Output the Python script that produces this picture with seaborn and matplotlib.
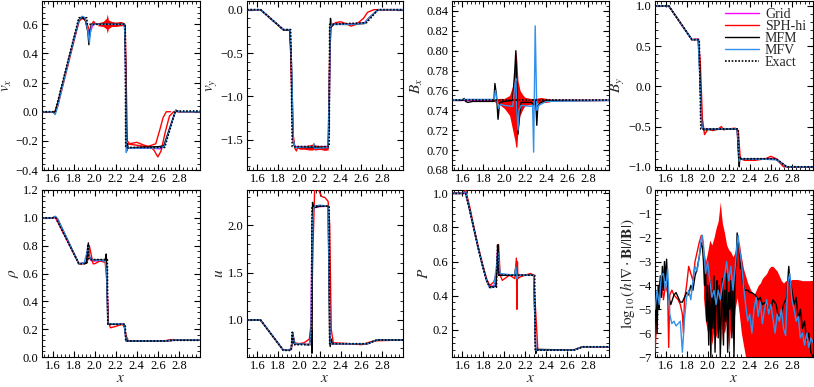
import matplotlib
matplotlib.use("Agg")
import matplotlib.pyplot as plt
import seaborn as sns
from matplotlib.lines import Line2D
from matplotlib.ticker import MultipleLocator

# ---------------- data ----------------
# v_x
vx_exact_x = [1.5, 1.625, 1.85, 1.925, 1.93, 2.29, 2.295, 2.665, 2.765, 3.0]
vx_exact_y = [0.0, 0.0, 0.645, 0.645, 0.60, 0.60, -0.245, -0.245, 0.005, 0.005]
vx_grid_x = [1.5, 1.6, 1.63, 1.7, 1.8, 1.86, 1.89, 1.92, 1.95, 1.965, 1.98, 2.0, 2.28, 2.29, 2.30, 2.31, 2.35, 2.55, 2.62, 2.66, 2.7, 2.77, 2.8, 3.0]
vx_grid_y = [0.0, 0.0, 0.0, 0.2, 0.49, 0.64, 0.645, 0.62, 0.52, 0.56, 0.59, 0.6, 0.6, 0.55, -0.24, -0.25, -0.25, -0.25, -0.255, -0.24, -0.14, 0.01, 0.0, 0.0]
vx_mfm_x = [1.5, 1.6, 1.62, 1.65, 1.75, 1.85, 1.88, 1.91, 1.935, 1.945, 1.955, 1.97, 2.0, 2.285, 2.295, 2.303, 2.31, 2.32, 2.4, 2.6, 2.655, 2.7, 2.77, 2.8, 3.0]
vx_mfm_y = [0.0, 0.0, -0.01, 0.06, 0.35, 0.63, 0.65, 0.63, 0.55, 0.46, 0.55, 0.6, 0.6, 0.6, 0.3, -0.27, -0.22, -0.25, -0.245, -0.24, -0.235, -0.14, 0.01, 0.0, 0.0]
vx_mfv_x = [1.5, 1.6, 1.625, 1.65, 1.75, 1.85, 1.88, 1.91, 1.935, 1.95, 1.96, 1.975, 2.0, 2.28, 2.29, 2.30, 2.31, 2.33, 2.6, 2.66, 2.7, 2.77, 2.8, 3.0]
vx_mfv_y = [0.0, 0.0, -0.02, 0.04, 0.34, 0.63, 0.655, 0.645, 0.56, 0.475, 0.55, 0.6, 0.6, 0.6, 0.5, -0.28, -0.24, -0.25, -0.25, -0.24, -0.15, 0.01, 0.0, 0.0]
vx_sph_x = [1.5, 1.6, 1.63, 1.65, 1.75, 1.85, 1.88, 1.91, 1.94, 1.955, 1.97, 1.99, 2.01, 2.27, 2.29, 2.31, 2.33, 2.4, 2.47, 2.52, 2.56, 2.6, 2.63, 2.67, 2.71, 2.75, 3.0]
vx_sph_y = [0.0, 0.0, 0.0, 0.04, 0.33, 0.62, 0.64, 0.63, 0.58, 0.55, 0.6, 0.62, 0.6, 0.6, 0.59, -0.2, -0.22, -0.21, -0.23, -0.24, -0.26, -0.31, -0.27, -0.14, -0.03, 0.0, 0.0]
vx_sph2_x = [2.3, 2.4, 2.5, 2.58, 2.62, 2.65, 2.68, 2.72]
vx_sph2_y = [-0.22, -0.23, -0.24, -0.22, -0.12, -0.04, 0.0, 0.0]
vx_band_x = [2.03, 2.08, 2.11, 2.12, 2.13, 2.16, 2.2, 2.25, 2.28]
vx_band_hi = [0.61, 0.62, 0.64, 0.67, 0.63, 0.62, 0.615, 0.62, 0.61]
vx_band_lo = [0.59, 0.585, 0.57, 0.54, 0.57, 0.585, 0.585, 0.59, 0.59]

# v_y
vy_exact_x = [1.5, 1.63, 1.85, 1.92, 1.935, 2.29, 2.295, 2.65, 2.76, 3.0]
vy_exact_y = [0.0, 0.0, -0.23, -0.23, -1.58, -1.58, -0.17, -0.15, 0.0, 0.0]
vy_grid_x = [1.5, 1.63, 1.85, 1.91, 1.925, 1.94, 1.96, 2.28, 2.29, 2.30, 2.32, 2.5, 2.63, 2.67, 2.76, 3.0]
vy_grid_y = [0.0, 0.0, -0.23, -0.235, -0.6, -1.5, -1.58, -1.58, -1.2, -0.2, -0.17, -0.165, -0.15, -0.1, 0.0, 0.0]
vy_mfm_x = [1.5, 1.63, 1.85, 1.91, 1.925, 1.945, 1.96, 2.28, 2.29, 2.298, 2.303, 2.31, 2.33, 2.5, 2.63, 2.67, 2.76, 3.0]
vy_mfm_y = [0.0, 0.0, -0.235, -0.235, -0.5, -1.5, -1.59, -1.59, -1.3, -0.25, -0.1, -0.2, -0.17, -0.17, -0.16, -0.1, 0.0, 0.0]
vy_mfv_x = [1.5, 1.63, 1.85, 1.915, 1.93, 1.945, 1.96, 2.14, 2.145, 2.15, 2.28, 2.29, 2.30, 2.32, 2.5, 2.63, 2.67, 2.76, 3.0]
vy_mfv_y = [0.0, 0.0, -0.23, -0.23, -0.7, -1.5, -1.59, -1.58, -1.55, -1.6, -1.59, -1.0, -0.2, -0.17, -0.17, -0.155, -0.1, 0.0, 0.0]
vy_sph_x = [1.5, 1.63, 1.85, 1.91, 1.92, 1.94, 1.96, 1.975, 1.99, 2.0, 2.2, 2.26, 2.28, 2.295, 2.31, 2.35, 2.4, 2.45, 2.5, 2.55, 2.62, 2.66, 2.72, 3.0]
vy_sph_y = [0.0, 0.0, -0.23, -0.24, -0.5, -1.4, -1.6, -1.63, -1.58, -1.6, -1.61, -1.62, -1.6, -0.5, -0.2, -0.15, -0.14, -0.16, -0.19, -0.17, -0.1, -0.03, 0.0, 0.0]
vy_band_x = [2.0, 2.05, 2.1, 2.13, 2.14, 2.15, 2.2, 2.25, 2.28]
vy_band_hi = [-1.57, -1.57, -1.56, -1.55, -1.53, -1.56, -1.57, -1.57, -1.58]
vy_band_lo = [-1.61, -1.61, -1.62, -1.62, -1.61, -1.62, -1.61, -1.62, -1.62]

# B_x
bx_exact_x = [1.5, 3.0]
bx_exact_y = [0.75, 0.75]
bx_grid_x = [1.5, 1.9, 1.95, 2.3, 2.35, 3.0]
bx_grid_y = [0.75, 0.75, 0.749, 0.749, 0.75, 0.75]
bx_mfm_x = [1.5, 1.6, 1.615, 1.63, 1.65, 1.7, 1.9, 1.91, 1.925, 1.94, 1.955, 2.0, 2.08, 2.1, 2.11, 2.12, 2.13, 2.145, 2.16, 2.26, 2.285, 2.3, 2.31, 2.32, 2.35, 2.4, 3.0]
bx_mfm_y = [0.75, 0.75, 0.752, 0.749, 0.748, 0.749, 0.749, 0.767, 0.755, 0.731, 0.748, 0.749, 0.75, 0.78, 0.80, 0.76, 0.716, 0.735, 0.748, 0.748, 0.745, 0.75, 0.725, 0.745, 0.748, 0.75, 0.75]
bx_mfv_x = [1.5, 1.6, 1.9, 1.915, 1.93, 1.945, 1.96, 2.0, 2.08, 2.1, 2.11, 2.12, 2.13, 2.14, 2.16, 2.25, 2.27, 2.28, 2.295, 2.31, 2.33, 2.4, 3.0]
bx_mfv_y = [0.75, 0.751, 0.751, 0.76, 0.75, 0.742, 0.746, 0.745, 0.744, 0.765, 0.772, 0.74, 0.72, 0.74, 0.745, 0.744, 0.745, 0.698, 0.825, 0.74, 0.745, 0.749, 0.75]
bx_band_x = [1.85, 1.9, 1.95, 2.0, 2.05, 2.08, 2.1, 2.11, 2.12, 2.13, 2.15, 2.18, 2.2, 2.25, 2.3, 2.35, 2.4, 2.45, 2.6, 2.8, 3.0]
bx_band_hi = [0.75, 0.751, 0.752, 0.752, 0.755, 0.765, 0.78, 0.80, 0.79, 0.77, 0.76, 0.755, 0.753, 0.752, 0.752, 0.753, 0.752, 0.751, 0.7505, 0.7505, 0.75]
bx_band_lo = [0.75, 0.749, 0.746, 0.742, 0.735, 0.72, 0.71, 0.703, 0.703, 0.72, 0.735, 0.742, 0.745, 0.746, 0.747, 0.748, 0.748, 0.749, 0.7495, 0.7495, 0.75]

# B_y
by_exact_x = [1.5, 1.63, 1.85, 1.92, 1.935, 2.29, 2.295, 2.65, 2.75, 3.0]
by_exact_y = [1.0, 1.0, 0.58, 0.58, -0.53, -0.53, -0.9, -0.9, -1.0, -1.0]
by_grid_x = [1.5, 1.63, 1.85, 1.915, 1.925, 1.94, 1.955, 2.28, 2.29, 2.30, 2.65, 2.75, 3.0]
by_grid_y = [1.0, 1.0, 0.58, 0.585, 0.3, -0.4, -0.53, -0.53, -0.75, -0.9, -0.9, -1.0, -1.0]
by_mfm_x = [1.5, 1.63, 1.85, 1.91, 1.925, 1.945, 1.96, 2.28, 2.295, 2.30, 2.305, 2.32, 2.65, 2.75, 3.0]
by_mfm_y = [1.0, 1.0, 0.58, 0.58, 0.2, -0.5, -0.54, -0.53, -0.9, -1.0, -0.88, -0.9, -0.91, -1.0, -1.0]
by_mfv_x = [1.5, 1.63, 1.85, 1.91, 1.925, 1.945, 1.96, 2.28, 2.29, 2.30, 2.31, 2.65, 2.75, 3.0]
by_mfv_y = [1.0, 1.0, 0.58, 0.58, 0.1, -0.5, -0.53, -0.53, -0.7, -0.93, -0.9, -0.91, -1.0, -1.0]
by_sph_x = [1.5, 1.63, 1.85, 1.91, 1.93, 1.95, 1.97, 1.985, 2.0, 2.05, 2.1, 2.13, 2.15, 2.2, 2.26, 2.29, 2.31, 2.35, 2.45, 2.55, 2.6, 2.65, 2.72, 3.0]
by_sph_y = [1.0, 1.0, 0.58, 0.585, 0.3, -0.4, -0.6, -0.57, -0.53, -0.55, -0.53, -0.5, -0.54, -0.53, -0.52, -0.55, -0.9, -0.92, -0.92, -0.9, -0.87, -0.9, -1.0, -1.0]

# rho
rho_exact_x = [1.5, 1.63, 1.85, 1.925, 1.935, 1.945, 2.12, 2.125, 2.29, 2.295, 2.66, 2.75, 3.0]
rho_exact_y = [1.0, 1.0, 0.67, 0.67, 0.80, 0.70, 0.70, 0.235, 0.235, 0.115, 0.115, 0.12, 0.12]
rho_grid_x = [1.5, 1.63, 1.85, 1.92, 1.935, 1.95, 1.97, 2.1, 2.115, 2.125, 2.13, 2.28, 2.295, 2.30, 2.66, 2.75, 3.0]
rho_grid_y = [1.0, 1.0, 0.67, 0.68, 0.78, 0.72, 0.69, 0.69, 0.65, 0.3, 0.235, 0.235, 0.15, 0.115, 0.115, 0.12, 0.12]
rho_mfm_x = [1.5, 1.6, 1.625, 1.65, 1.85, 1.92, 1.94, 1.95, 1.97, 2.1, 2.11, 2.115, 2.125, 2.14, 2.28, 2.3, 2.66, 2.75, 3.0]
rho_mfm_y = [1.0, 1.0, 1.01, 0.99, 0.67, 0.675, 0.82, 0.72, 0.7, 0.695, 0.74, 0.6, 0.24, 0.235, 0.235, 0.115, 0.115, 0.12, 0.12]
rho_mfv_x = [1.5, 1.6, 1.625, 1.65, 1.85, 1.9, 1.94, 1.955, 1.97, 2.1, 2.115, 2.125, 2.28, 2.3, 2.66, 2.75, 3.0]
rho_mfv_y = [1.0, 1.0, 1.01, 0.99, 0.67, 0.675, 0.79, 0.71, 0.7, 0.69, 0.6, 0.24, 0.235, 0.115, 0.115, 0.122, 0.122]
rho_sph_x = [1.5, 1.6, 1.63, 1.85, 1.9, 1.93, 1.95, 1.96, 1.985, 2.0, 2.05, 2.1, 2.115, 2.13, 2.15, 2.2, 2.26, 2.28, 2.3, 2.32, 2.66, 2.72, 3.0]
rho_sph_y = [1.0, 1.0, 1.005, 0.67, 0.67, 0.68, 0.80, 0.76, 0.67, 0.67, 0.69, 0.68, 0.55, 0.25, 0.21, 0.22, 0.235, 0.22, 0.15, 0.115, 0.115, 0.125, 0.122]

# u
u_exact_x = [1.5, 1.63, 1.85, 1.925, 1.935, 1.95, 2.12, 2.125, 2.29, 2.295, 2.66, 2.75, 3.0]
u_exact_y = [1.0, 1.0, 0.68, 0.68, 0.87, 0.74, 0.74, 2.2, 2.2, 0.75, 0.75, 0.79, 0.79]
u_grid_x = [1.5, 1.63, 1.85, 1.925, 1.94, 1.955, 2.1, 2.115, 2.125, 2.14, 2.28, 2.29, 2.30, 2.66, 2.75, 3.0]
u_grid_y = [1.0, 1.0, 0.68, 0.69, 0.85, 0.75, 0.74, 0.9, 2.0, 2.19, 2.2, 1.5, 0.75, 0.75, 0.79, 0.79]
u_mfm_x = [1.5, 1.63, 1.85, 1.925, 1.94, 1.955, 2.1, 2.12, 2.125, 2.13, 2.14, 2.2, 2.28, 2.295, 2.30, 2.31, 2.32, 2.66, 2.75, 3.0]
u_mfm_y = [1.0, 1.0, 0.68, 0.69, 0.87, 0.75, 0.74, 0.9, 0.65, 2.24, 2.18, 2.2, 2.2, 0.8, 0.72, 0.8, 0.75, 0.75, 0.79, 0.79]
u_mfv_x = [1.5, 1.63, 1.85, 1.925, 1.94, 1.955, 2.1, 2.115, 2.13, 2.145, 2.2, 2.28, 2.295, 2.30, 2.66, 2.75, 3.0]
u_mfv_y = [1.0, 1.0, 0.68, 0.69, 0.86, 0.75, 0.74, 0.85, 2.05, 2.2, 2.21, 2.2, 1.0, 0.75, 0.75, 0.79, 0.79]
u_sph_x = [1.5, 1.63, 1.85, 1.925, 1.945, 1.96, 2.0, 2.05, 2.1, 2.12, 2.135, 2.15, 2.16, 2.2, 2.22, 2.25, 2.28, 2.295, 2.31, 2.33, 2.5, 2.6, 2.72, 3.0]
u_sph_y = [1.0, 1.0, 0.68, 0.69, 0.82, 0.76, 0.75, 0.76, 0.8, 1.0, 1.8, 2.35, 2.45, 2.34, 2.3, 2.29, 2.25, 2.0, 0.9, 0.76, 0.75, 0.74, 0.78, 0.79]

# P
p_exact_x = [1.5, 1.63, 1.67, 1.71, 1.75, 1.79, 1.83, 1.86, 1.925, 1.935, 1.945, 2.29, 2.295, 2.66, 2.75, 3.0]
p_exact_y = [1.0, 1.0, 0.9, 0.79, 0.68, 0.58, 0.49, 0.45, 0.45, 0.70, 0.52, 0.52, 0.08, 0.08, 0.1, 0.1]
p_grid_x = [1.5, 1.63, 1.67, 1.71, 1.75, 1.79, 1.83, 1.86, 1.92, 1.935, 1.95, 2.28, 2.29, 2.30, 2.66, 2.75, 3.0]
p_grid_y = [1.0, 1.0, 0.9, 0.79, 0.68, 0.58, 0.49, 0.455, 0.46, 0.67, 0.52, 0.52, 0.3, 0.08, 0.08, 0.1, 0.1]
p_mfm_x = [1.5, 1.6, 1.63, 1.67, 1.71, 1.75, 1.79, 1.83, 1.86, 1.92, 1.94, 1.95, 2.1, 2.11, 2.12, 2.13, 2.28, 2.295, 2.30, 2.31, 2.66, 2.75, 3.0]
p_mfm_y = [1.0, 1.0, 1.01, 0.9, 0.79, 0.68, 0.58, 0.49, 0.45, 0.455, 0.7, 0.52, 0.52, 0.57, 0.5, 0.52, 0.52, 0.2, 0.06, 0.085, 0.08, 0.1, 0.1]
p_mfv_x = [1.5, 1.6, 1.63, 1.67, 1.71, 1.75, 1.79, 1.83, 1.86, 1.9, 1.94, 1.96, 2.1, 2.11, 2.12, 2.13, 2.28, 2.29, 2.30, 2.66, 2.75, 3.0]
p_mfv_y = [1.0, 1.0, 1.01, 0.9, 0.79, 0.68, 0.58, 0.49, 0.445, 0.45, 0.65, 0.53, 0.52, 0.57, 0.5, 0.52, 0.52, 0.3, 0.08, 0.08, 0.1, 0.1]
p_sph_x = [1.5, 1.6, 1.63, 1.67, 1.71, 1.75, 1.79, 1.83, 1.86, 1.9, 1.93, 1.945, 1.96, 1.98, 2.05, 2.1, 2.115, 2.12, 2.125, 2.13, 2.15, 2.25, 2.28, 2.3, 2.32, 2.66, 2.75, 3.0]
p_sph_y = [1.0, 1.0, 1.02, 0.92, 0.8, 0.69, 0.59, 0.5, 0.46, 0.48, 0.55, 0.7, 0.52, 0.49, 0.52, 0.5, 0.62, 0.32, 0.6, 0.5, 0.51, 0.53, 0.52, 0.3, 0.08, 0.08, 0.1, 0.1]

# log10(h |div B| / |B|)
db_mfm_x = [1.5, 1.51, 1.52, 1.53, 1.54, 1.55, 1.56, 1.57, 1.58, 1.59, 1.6, 1.61, 1.62, 1.63,
            1.65, 1.68, 1.7, 1.72, 1.74, 1.76, 1.78, 1.8, 1.82, 1.84, 1.86, 1.88, 1.9, 1.92, 1.94,
            1.95, 1.96, 1.97, 1.98, 1.99, 2.0, 2.01, 2.02, 2.03, 2.04, 2.05, 2.06, 2.07, 2.08, 2.09,
            2.1, 2.11, 2.12, 2.13, 2.14, 2.15, 2.16, 2.17, 2.18, 2.19, 2.2, 2.21, 2.22, 2.23, 2.24,
            2.25, 2.26, 2.27, 2.28, 2.29, 2.3, 2.31, 2.32, 2.33,
            2.35, 2.38, 2.4, 2.42, 2.45, 2.48, 2.5, 2.52, 2.55, 2.57, 2.6, 2.62, 2.65, 2.67, 2.7,
            2.72, 2.75, 2.77, 2.78, 2.8, 2.82, 2.84, 2.86, 2.88, 2.9, 2.92, 2.94, 2.96, 2.98, 3.0]
db_mfm_y = [-5.5, -4.3, -6.0, -4.0, -5.0, -3.6, -4.5, -3.2, -4.2, -3.0, -3.8, -2.9, -4.0, -4.5,
            -4.8, -4.4, -4.3, -4.5, -4.7, -4.7, -4.5, -4.3, -4.4, -4.0, -4.2, -3.6, -3.3, -2.8, -2.2,
            -2.4, -3.0, -4.0, -3.2, -5.5, -4.0, -6.5, -3.8, -7.0, -4.2, -5.8, -3.6, -6.8, -4.5, -3.8,
            -6.2, -4.0, -7.0, -5.0, -3.7, -6.5, -4.2, -5.5, -3.5, -6.8, -4.3, -5.0, -3.8, -6.2, -4.0,
            -7.0, -3.5, -3.0, -1.8, -2.3, -2.5, -3.3, -3.0, -3.8,
            -4.2, -4.2, -4.3, -4.3, -4.4, -4.6, -4.5, -4.8, -4.7, -4.9, -5.0, -4.6, -4.8, -5.3, -5.2,
            -4.8, -4.5, -3.2, -3.8, -4.2, -4.8, -4.5, -5.4, -5.0, -5.8, -5.5, -6.3, -6.0, -6.8, -7.0]
db_mfv_x = [1.5, 1.52, 1.54, 1.56, 1.58, 1.6, 1.62, 1.64, 1.66, 1.68, 1.7, 1.72, 1.74, 1.76, 1.78,
            1.8, 1.82, 1.84, 1.86, 1.88, 1.9, 1.92, 1.94, 1.95, 1.96, 1.98,
            2.0, 2.02, 2.04, 2.06, 2.08, 2.1, 2.12, 2.14, 2.16, 2.18, 2.2, 2.22, 2.24, 2.26, 2.28,
            2.29, 2.3,
            2.32, 2.34, 2.36, 2.38, 2.4, 2.42, 2.44, 2.46, 2.48, 2.5, 2.52, 2.54, 2.56, 2.58, 2.6,
            2.62, 2.64, 2.66, 2.68, 2.7, 2.72, 2.74, 2.76, 2.78, 2.8, 2.82, 2.84, 2.86, 2.88, 2.9,
            2.92, 2.94, 2.96, 2.98, 3.0]
db_mfv_y = [-5.0, -4.2, -4.8, -3.6, -3.5, -4.2, -3.3, -5.2, -5.6, -5.5, -5.7, -5.6, -5.5, -6.8, -5.4,
            -4.5, -4.2, -4.6, -3.8, -3.2, -3.4, -2.8, -2.0, -1.9, -2.3, -3.5,
            -3.0, -3.8, -4.5, -4.2, -4.8, -4.2, -4.6, -4.0, -3.6, -3.0, -3.8, -3.2, -4.2, -3.3, -2.2,
            -1.9, -2.4,
            -3.0, -4.0, -4.8, -5.5, -5.2, -6.0, -5.0, -4.5, -5.3, -4.7, -5.6, -5.0, -4.6, -5.2, -4.8,
            -5.4, -6.0, -5.2, -5.5, -5.0, -5.8, -6.1, -3.9, -3.5, -4.6, -5.0, -5.5, -5.3, -6.2, -6.0,
            -6.5, -6.0, -6.6, -6.2, -6.4]
db_sph_x = [1.5, 1.52, 1.54, 1.56, 1.58, 1.6, 1.62, 1.63, 1.64, 1.66, 1.68, 1.7, 1.72, 1.74, 1.76,
            1.77, 1.78, 1.8, 1.82, 1.84, 1.86, 1.88, 1.9, 1.92, 1.94, 1.96]
db_sph_y = [-6.8, -5.0, -4.0, -3.6, -4.6, -4.0, -4.3, -6.6, -4.4, -4.2, -4.4, -4.5, -4.6, -4.8, -5.2,
            -6.0, -4.6, -4.0, -3.2, -3.5, -3.8, -3.0, -2.6, -2.2, -1.9, -2.3]
db_band_x = [1.96, 1.98, 2.0, 2.02, 2.04, 2.06, 2.08, 2.1, 2.11, 2.12, 2.13, 2.14,
             2.16, 2.18, 2.2, 2.22, 2.24, 2.26, 2.28, 2.3, 2.32, 2.34, 2.36, 2.38, 2.4, 2.42, 2.44,
             2.46, 2.48, 2.5, 2.52, 2.54, 2.56, 2.58, 2.6, 2.62, 2.64, 2.66, 2.68, 2.7, 2.72, 2.74,
             2.76, 2.78, 2.8, 2.85, 2.9, 2.95, 3.0]
db_band_hi = [-2.4, -3.0, -2.6, -2.1, -2.3, -2.0, -1.6, -1.3, -0.9, -0.5, -1.0, -1.4,
              -1.8, -2.3, -2.5, -2.6, -2.8, -2.6, -2.1, -2.2, -2.8, -3.3, -3.6, -3.9, -4.1, -4.3, -4.4,
              -4.2, -4.0, -3.9, -3.7, -3.6, -3.5, -3.3, -3.2, -3.2, -3.3, -3.4, -3.6, -3.8, -3.9, -3.8,
              -3.8, -3.8, -3.75, -3.75, -3.8, -3.8, -3.8]
db_band_lo = [-4.5, -5.5, -6.0, -5.5, -6.5, -5.8, -6.2, -5.5, -6.0, -5.0, -6.5, -5.8,
              -6.0, -5.5, -6.8, -5.6, -6.2, -5.0, -4.5, -5.2, -6.0, -6.5, -7.0, -7.0, -7.0, -7.0, -7.0,
              -7.0, -7.0, -7.0, -7.0, -7.0, -7.0, -7.0, -7.0, -7.0, -7.0, -7.0, -7.0, -7.0, -7.0, -7.0,
              -7.0, -7.0, -7.0, -7.0, -7.0, -7.0, -7.0]

# ---------------- styling ----------------
sns.set_style("ticks")
plt.rcParams.update({
    "font.family": ["Liberation Serif", "DejaVu Serif"],
    "mathtext.fontset": "stix",
    "font.size": 9,
    "axes.linewidth": 0.8,
    "xtick.direction": "in", "ytick.direction": "in",
    "xtick.top": True, "ytick.right": True,
    "xtick.major.size": 4, "ytick.major.size": 4,
    "xtick.minor.size": 2, "ytick.minor.size": 2,
    "xtick.minor.visible": True, "ytick.minor.visible": True,
    "xtick.labelsize": 9, "ytick.labelsize": 9,
    "xtick.color": "black", "ytick.color": "black",
    "axes.edgecolor": "black",
})

C_GRID = "#FF00FF"
C_SPH = "#FF0000"
C_MFM = "#000000"
C_MFV = "#3391EA"
LW = 1.0

fig = plt.figure(figsize=(8.14, 3.87), dpi=100)
W, H = 814.0, 387.0
cols = [(42, 200), (247, 403), (452, 609), (655, 813)]
rows = [(1, 170), (190, 357)]


def make_ax(r, c):
    x0, x1 = cols[c]
    y0, y1 = rows[r]
    return fig.add_axes([x0 / W, 1 - y1 / H, (x1 - x0) / W, (y1 - y0) / H])


def line(ax, x, y, color, z, ls="-", lw=LW):
    sns.lineplot(x=x, y=y, ax=ax, color=color, lw=lw, linestyle=ls, sort=False,
                 estimator=None, zorder=z, legend=False)


def panel(ax, grid, sph, mfm, mfv, exact, bands=()):
    for bx, lo, hi in bands:
        ax.fill_between(bx, lo, hi, color=C_SPH, lw=0, zorder=2.5)
    if grid is not None:
        line(ax, grid[0], grid[1], C_GRID, 2)
    for s in sph:
        line(ax, s[0], s[1], C_SPH, 3)
    line(ax, mfm[0], mfm[1], C_MFM, 4)
    line(ax, mfv[0], mfv[1], C_MFV, 5)
    if exact is not None:
        line(ax, exact[0], exact[1], "black", 6, ls=(0, (1, 1)), lw=1.2)


def style(ax, ylim, ymaj, ymin, ylabel, xlabel=False):
    ax.set_xlim(1.5, 3.0)
    ax.set_ylim(*ylim)
    ax.xaxis.set_minor_locator(MultipleLocator(0.04))
    ax.yaxis.set_major_locator(MultipleLocator(ymaj))
    ax.yaxis.set_minor_locator(MultipleLocator(ymin))
    ax.set_xticks([1.6, 1.8, 2.0, 2.2, 2.4, 2.6, 2.8])
    ax.set_ylabel(ylabel, fontsize=11, labelpad=1)
    ax.set_xlabel("$x$" if xlabel else None, fontsize=11, labelpad=0)
    ax.tick_params(which="both", top=True, right=True, direction="in", pad=2.5)


ax = make_ax(0, 0)
panel(ax, (vx_grid_x, vx_grid_y), [(vx_sph_x, vx_sph_y), (vx_sph2_x, vx_sph2_y)],
      (vx_mfm_x, vx_mfm_y), (vx_mfv_x, vx_mfv_y), (vx_exact_x, vx_exact_y),
      [(vx_band_x, vx_band_lo, vx_band_hi)])
style(ax, (-0.4, 0.76), 0.2, 0.04, r"$v_x$")

ax = make_ax(0, 1)
panel(ax, (vy_grid_x, vy_grid_y), [(vy_sph_x, vy_sph_y)],
      (vy_mfm_x, vy_mfm_y), (vy_mfv_x, vy_mfv_y), (vy_exact_x, vy_exact_y),
      [(vy_band_x, vy_band_lo, vy_band_hi)])
style(ax, (-1.85, 0.1), 0.5, 0.1, r"$v_y$")

ax = make_ax(0, 2)
panel(ax, (bx_grid_x, bx_grid_y), [],
      (bx_mfm_x, bx_mfm_y), (bx_mfv_x, bx_mfv_y), (bx_exact_x, bx_exact_y),
      [(bx_band_x, bx_band_lo, bx_band_hi)])
style(ax, (0.68, 0.85), 0.02, 0.005, r"$B_x$")

ax = make_ax(0, 3)
panel(ax, (by_grid_x, by_grid_y), [(by_sph_x, by_sph_y)],
      (by_mfm_x, by_mfm_y), (by_mfv_x, by_mfv_y), (by_exact_x, by_exact_y))
style(ax, (-1.04, 1.06), 0.5, 0.1, r"$B_y$")
handles = [Line2D([], [], color=C_GRID, lw=LW), Line2D([], [], color=C_SPH, lw=LW),
           Line2D([], [], color=C_MFM, lw=LW), Line2D([], [], color=C_MFV, lw=LW),
           Line2D([], [], color="black", lw=1.2, ls=(0, (1, 1)))]
ax.legend(handles, ["Grid", "SPH-hi", "MFM", "MFV", "Exact"], loc="upper right",
          frameon=False, fontsize=10, handlelength=2.4, labelspacing=-0.08,
          handletextpad=0.45, borderaxespad=0.3, borderpad=0.2)

ax = make_ax(1, 0)
panel(ax, (rho_grid_x, rho_grid_y), [(rho_sph_x, rho_sph_y)],
      (rho_mfm_x, rho_mfm_y), (rho_mfv_x, rho_mfv_y), (rho_exact_x, rho_exact_y))
style(ax, (0.0, 1.2), 0.2, 0.04, r"$\rho$", xlabel=True)

ax = make_ax(1, 1)
panel(ax, (u_grid_x, u_grid_y), [(u_sph_x, u_sph_y)],
      (u_mfm_x, u_mfm_y), (u_mfv_x, u_mfv_y), (u_exact_x, u_exact_y))
style(ax, (0.61, 2.37), 0.5, 0.1, r"$u$", xlabel=True)

ax = make_ax(1, 2)
panel(ax, (p_grid_x, p_grid_y), [(p_sph_x, p_sph_y)],
      (p_mfm_x, p_mfm_y), (p_mfv_x, p_mfv_y), (p_exact_x, p_exact_y))
style(ax, (0.04, 1.02), 0.2, 0.04, r"$P$", xlabel=True)

ax = make_ax(1, 3)
panel(ax, None, [(db_sph_x, db_sph_y)],
      (db_mfm_x, db_mfm_y), (db_mfv_x, db_mfv_y), None,
      [(db_band_x, db_band_lo, db_band_hi)])
style(ax, (-7.0, 0.0), 1.0, 0.2, r"$\log_{10}(h\,|\nabla\cdot\mathbf{B}|/|\mathbf{B}|)$", xlabel=True)

fig.savefig("out.png", dpi=100)
